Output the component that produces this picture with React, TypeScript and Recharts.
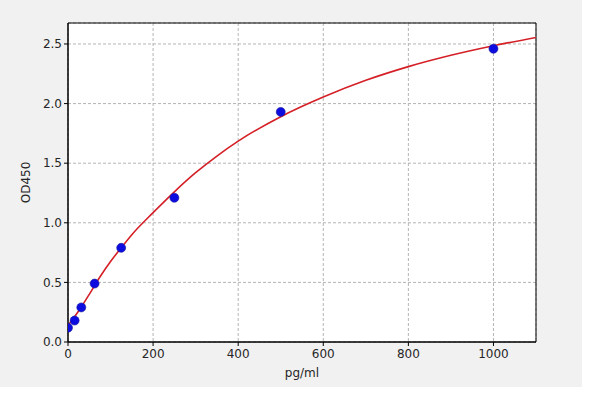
import React from 'react';
import {
  ComposedChart, Line, Scatter, XAxis, YAxis, CartesianGrid, ReferenceArea,
} from 'recharts';

// standard concentrations and measured OD
const concentrations = [0, 15.6, 31.25, 62.5, 125, 250, 500, 1000];
const odValues = [0.12, 0.18, 0.29, 0.49, 0.79, 1.21, 1.93, 2.46];

// fitted curve
const curveX = [0, 25, 50, 75, 100, 125, 150, 200, 250, 300, 350, 400, 500, 600, 700, 800, 900, 1000, 1100];
const curveY = [0.14, 0.26, 0.4, 0.545, 0.675, 0.79, 0.9, 1.085, 1.26, 1.42, 1.56, 1.685, 1.89, 2.055, 2.195, 2.31, 2.405, 2.485, 2.555];

const xTicks = [0, 200, 400, 600, 800, 1000];
const yTicks = [0, 0.5, 1.0, 1.5, 2.0, 2.5];

const X_MAX = 1100;
const Y_MAX = 2.676;

const points = concentrations.map((c, i) => ({ conc: c, od: odValues[i] }));
const curve = curveX.map((c, i) => ({ conc: c, od: curveY[i] }));

const tickStyle = { fill: '#262626', fontSize: 12, fontFamily: 'DejaVu Sans' };

const Dot = (p: any) => (
  <circle cx={p.cx} cy={p.cy} r={4.5} fill="#0c0ce0" stroke="#1a1a9a" strokeWidth={0.6} />
);

const App: React.FC = () => {
  return (
    <div style={{ position: 'absolute', left: 0, top: 0, width: 600, height: 403, background: '#ffffff' }}>
      <div style={{ position: 'absolute', left: 0, top: 0, width: 582, height: 387, background: '#f1f1f1' }} />
      <ComposedChart
        width={600}
        height={403}
        margin={{ top: 23, right: 64, bottom: 0, left: 0 }}
        style={{ position: 'absolute', left: 0, top: 0, fontFamily: 'DejaVu Sans' }}
      >
        <CartesianGrid fill="#ffffff" stroke="#b4b4b4" strokeDasharray="3 2" />
        <XAxis
          dataKey="conc"
          type="number"
          domain={[0, X_MAX]}
          ticks={xTicks}
          height={61}
          tickSize={4}
          tickMargin={3}
          tick={tickStyle}
          axisLine={{ stroke: '#000' }}
          tickLine={{ stroke: '#000' }}
          allowDataOverflow
          label={{ value: 'pg/ml', position: 'insideBottom', offset: 26, fill: '#262626', fontSize: 12 }}
        />
        <YAxis
          dataKey="od"
          type="number"
          domain={[0, Y_MAX]}
          ticks={yTicks}
          width={68}
          tickSize={4}
          tickMargin={2}
          tick={tickStyle}
          tickFormatter={(v: number) => v.toFixed(1)}
          axisLine={{ stroke: '#000' }}
          tickLine={{ stroke: '#000' }}
          allowDataOverflow
          label={{ value: 'OD450', angle: -90, position: 'insideLeft', offset: 26, fill: '#262626', fontSize: 12, style: { textAnchor: 'middle' } }}
        />
        <Scatter data={points} dataKey="od" shape={Dot} isAnimationActive={false} />
        <Line
          data={curve}
          dataKey="od"
          type="monotone"
          stroke="#d41f26"
          strokeWidth={1.6}
          dot={false}
          activeDot={false}
          isAnimationActive={false}
        />
        <ReferenceArea x1={0} x2={X_MAX} y1={0} y2={Y_MAX} fill="none" stroke="#000" strokeWidth={1} />
      </ComposedChart>
    </div>
  );
};

export default App;
